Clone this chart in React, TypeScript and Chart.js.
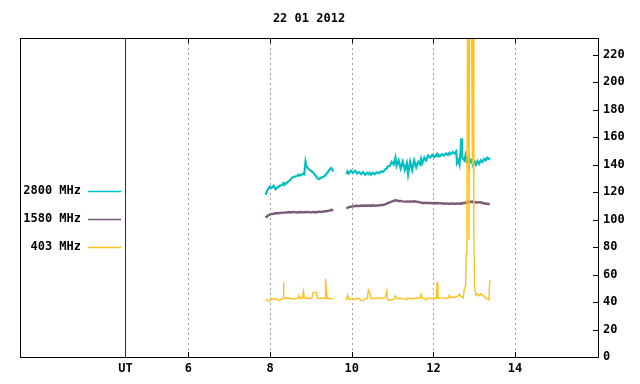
import React, { useEffect, useRef } from 'react';
import { Chart, registerables } from 'chart.js';

Chart.register(...registerables);

const TITLE = '22 01 2012';
const X_MIN = 1.88;
const X_MAX = 16.03;
const UT_POS = 4.46;
const X_TICKS = [UT_POS, 6, 8, 10, 12, 14];
const X_LABELS = ['UT', '6', '8', '10', '12', '14'];
const Y_MIN = 0;
const Y_MAX = 232;
const Y_TICKS = [0, 20, 40, 60, 80, 100, 120, 140, 160, 180, 200, 220];
const SERIES_NAMES = ['2800 MHz', '1580 MHz', '403 MHz'];
const SERIES_COLORS = ['#00bfbf', '#7a5a7a', '#ffc020'];

// Segment A (before the gap)
const TIMES_A = [
  7.89, 7.94, 7.99, 8.04, 8.09, 8.14, 8.19, 8.24, 8.29, 8.32,
  8.33, 8.34, 8.39, 8.44, 8.49, 8.54, 8.59, 8.64, 8.69, 8.70,
  8.74, 8.79, 8.82, 8.84, 8.87, 8.89, 8.92, 8.97, 9.02, 9.06,
  9.10, 9.14, 9.16, 9.21, 9.26, 9.31, 9.35, 9.36, 9.38, 9.40,
  9.45, 9.50, 9.55,
];
const MHZ2800_A = [
  118, 121.5, 124, 123, 124.5, 122, 123.5, 124.5, 125, 126,
  125.5, 126.5, 126, 127.5, 128.5, 130.5, 131, 131.5, 132, 132.5,
  132, 133, 133.5, 133, 142, 139, 137.5, 136, 135, 134,
  132.5, 131, 130, 129.5, 130.5, 131, 132, 132.5, 133, 134,
  136, 137.5, 135,
];
const MHZ1580_A = [
  101.5, 102.5, 103.5, 104, 104.2, 104.5, 104.5, 104.7, 104.8, 105,
  105, 105, 105, 105.3, 105.3, 105.3, 105.5, 105, 105.3, 105.3,
  105.5, 105.3, 105.2, 105.3, 105.5, 105.3, 105.5, 105.3, 105.2, 105.5,
  105.3, 105.3, 105.5, 105.7, 105.5, 105.8, 106, 106, 106, 106.2,
  106.5, 107, 106.5,
];
const MHZ403_A = [
  42, 41, 40.7, 42.5, 42, 42.5, 41.5, 41, 42.5, 42.5,
  54.5, 42.7, 42.7, 42.7, 42.7, 42, 42.3, 42.3, 43, 44.4,
  42.5, 42.7, 47.8, 43, 42.7, 42.7, 42.7, 42.7, 42.5, 47,
  47, 47, 42.5, 42.7, 42.7, 42.7, 42.7, 57, 48.7, 42.5,
  42.7, 42.3, 42.3,
];

// Gap between the two segments
const GAP_TIME = 9.7;

// Segment B (after the gap)
const TIMES_B = [
  9.87, 9.90, 9.93, 9.98, 10.03, 10.08, 10.13, 10.18, 10.23, 10.28,
  10.33, 10.38, 10.41, 10.44, 10.47, 10.52, 10.57, 10.62, 10.67, 10.72,
  10.77, 10.82, 10.86, 10.88, 10.93, 10.98, 11.03, 11.07, 11.10, 11.15,
  11.20, 11.25, 11.30, 11.35, 11.38, 11.43, 11.48, 11.53, 11.58, 11.63,
  11.68, 11.70, 11.73, 11.78, 11.82, 11.87, 11.92, 11.97, 12.02, 12.07,
  12.09, 12.11, 12.16, 12.21, 12.26, 12.31, 12.36, 12.39, 12.42, 12.47,
  12.52, 12.56, 12.58, 12.61, 12.64, 12.67, 12.68, 12.70, 12.73, 12.76,
  12.79, 12.805, 12.82, 12.835, 12.855, 12.87, 12.885, 12.91, 12.935, 12.955,
  12.97, 12.99, 13.01, 13.04, 13.08, 13.12, 13.16, 13.20, 13.24, 13.28,
  13.32, 13.36, 13.38,
];
const MHZ2800_B = [
  133, 135, 133.5, 135.5, 134, 135.5, 133.5, 134.5, 133, 134.5,
  132.5, 134, 133, 134, 132.5, 134, 133, 134.5, 133.5, 135,
  134.5, 136.5, 137, 138.5, 139, 142, 140, 145, 139, 143,
  137, 142, 136, 141, 133, 142, 136, 143, 138, 142,
  140, 144, 141, 145, 143, 146.5, 145, 147, 145.5, 147,
  146, 147.5, 146, 147.5, 146.5, 148, 147, 148.5, 147.5, 149,
  148, 149.5, 141, 143, 140, 152, 159, 146, 144, 143,
  147, 145, 141, 144, 143, 141, 144, 142, 143, 141,
  143.5, 140.5, 142, 140, 142.5, 140.5, 143, 142, 144, 143,
  145, 144, 145,
];
const MHZ1580_B = [
  108, 108.5, 109, 109.3, 109.5, 109.8, 110, 109.8, 110, 110.2,
  110, 110.2, 110, 110.2, 110, 110.3, 110, 110.2, 110.3, 110.5,
  110.5, 111, 111.5, 112, 112.5, 113, 113.5, 114, 113.8, 113.5,
  113.5, 113.2, 113, 113.2, 113, 113.2, 113, 113.3, 113, 112.7,
  112.5, 112.3, 112, 112, 112.2, 112, 112, 111.8, 112, 111.8,
  111.8, 112, 111.7, 111.8, 111.5, 111.7, 111.5, 111.5, 111.5, 111.7,
  111.5, 111.5, 111.5, 111.7, 111.5, 111.5, 111.8, 111.7, 112, 112,
  112, 112.3, 112.5, 112.3, 112.5, 112.8, 112.5, 113, 112.7, 113,
  112.5, 112.8, 112.5, 112.5, 112.3, 112.5, 112.5, 112, 111.8, 111.5,
  111.5, 111.3, 111.3,
];
const MHZ403_B = [
  41.5, 45, 42, 42, 42.3, 42, 42.5, 42.5, 41, 41,
  42.5, 42.5, 48.7, 47, 42.5, 42.5, 42.5, 42.7, 42.7, 43,
  42.7, 43, 48, 41.5, 41.5, 41.5, 42, 44.4, 42.5, 42.5,
  42.5, 42.3, 42.3, 41.5, 43, 42.5, 42.5, 42.5, 42.7, 42.7,
  43, 45.6, 43, 42.5, 41.5, 43, 42.5, 42.5, 42.7, 42.5,
  54.3, 42.7, 43, 43, 43, 42.7, 43, 45, 43, 43.5,
  43.5, 44, 44, 44.5, 45.6, 44, 44, 44, 43, 50,
  52, 75, 110, 240, 240, 85, 240, 240, 240, 140,
  240, 90, 50, 45, 46, 44.5, 46, 45, 44, 43,
  42.5, 41.5, 56,
];

const FONT = 'bold 12px "DejaVu Sans Mono", "Liberation Mono", monospace';

function buildSeries(a: number[], b: number[]) {
  const pts: { x: number; y: number | null }[] = [];
  TIMES_A.forEach((t, i) => pts.push({ x: t, y: a[i] }));
  pts.push({ x: GAP_TIME, y: null });
  TIMES_B.forEach((t, i) => pts.push({ x: t, y: b[i] }));
  return pts;
}

const decorPlugin = {
  id: 'decor',
  beforeDatasetsDraw(chart: any) {
    const { ctx, chartArea: a, scales } = chart;
    const x = scales.x;
    ctx.save();
    ctx.lineWidth = 1;
    ctx.strokeStyle = '#a0a0a0';
    ctx.setLineDash([2, 3]);
    X_TICKS.forEach((v) => {
      if (v === UT_POS) return;
      const px = Math.round(x.getPixelForValue(v)) + 0.5;
      ctx.beginPath();
      ctx.moveTo(px, a.top);
      ctx.lineTo(px, a.bottom);
      ctx.stroke();
    });
    ctx.setLineDash([]);
    ctx.strokeStyle = '#990000';
    const ux = Math.round(x.getPixelForValue(UT_POS)) + 0.5;
    ctx.beginPath();
    ctx.moveTo(ux, a.top);
    ctx.lineTo(ux, a.bottom);
    ctx.stroke();
    ctx.restore();
  },
  afterDatasetsDraw(chart: any) {
    const { ctx, chartArea: a, scales } = chart;
    const x = scales.x;
    const y = scales.y;
    ctx.save();
    ctx.lineWidth = 1;
    ctx.strokeStyle = '#000';
    ctx.setLineDash([]);
    // frame
    ctx.strokeRect(a.left + 0.5, a.top + 0.5, a.right - a.left, a.bottom - a.top);
    // x ticks (bottom and top, inward)
    X_TICKS.forEach((v) => {
      if (v === UT_POS) return;
      const px = Math.round(x.getPixelForValue(v)) + 0.5;
      ctx.beginPath();
      ctx.moveTo(px, a.bottom);
      ctx.lineTo(px, a.bottom - 5);
      ctx.moveTo(px, a.top);
      ctx.lineTo(px, a.top + 5);
      ctx.stroke();
    });
    // y ticks on right, inward
    Y_TICKS.forEach((v) => {
      const py = Math.round(y.getPixelForValue(v)) + 0.5;
      ctx.beginPath();
      ctx.moveTo(a.right, py);
      ctx.lineTo(a.right - 5, py);
      ctx.stroke();
    });
    // title
    ctx.fillStyle = '#000';
    ctx.font = FONT;
    ctx.textAlign = 'center';
    ctx.textBaseline = 'middle';
    ctx.fillText(TITLE, (a.left + a.right) / 2, 19);
    // legend
    const rows = [191, 219, 247];
    SERIES_NAMES.forEach((name, i) => {
      const ry = rows[i];
      ctx.textAlign = 'right';
      ctx.fillStyle = '#000';
      ctx.fillText(name, a.left + 61, ry);
      ctx.strokeStyle = SERIES_COLORS[i];
      ctx.lineWidth = 1.3;
      ctx.beginPath();
      ctx.moveTo(a.left + 68, ry + 0.5);
      ctx.lineTo(a.left + 101, ry + 0.5);
      ctx.stroke();
    });
    ctx.restore();
  },
};

export default function App() {
  const ref = useRef<HTMLCanvasElement | null>(null);
  useEffect(() => {
    document.body.style.margin = '0';
    const canvas = ref.current;
    if (!canvas) return;
    const data2800 = buildSeries(MHZ2800_A, MHZ2800_B);
    const data1580 = buildSeries(MHZ1580_A, MHZ1580_B);
    const data403 = buildSeries(MHZ403_A, MHZ403_B);
    const chart = new Chart(canvas, {
      type: 'line',
      data: {
        datasets: [
          { label: SERIES_NAMES[0], data: data2800, borderColor: SERIES_COLORS[0], borderWidth: 2.2, pointRadius: 0, tension: 0, order: 2 },
          { label: SERIES_NAMES[1], data: data1580, borderColor: SERIES_COLORS[1], borderWidth: 2.4, pointRadius: 0, tension: 0, order: 1 },
          { label: SERIES_NAMES[2], data: data403, borderColor: SERIES_COLORS[2], borderWidth: 1.4, pointRadius: 0, tension: 0, order: 0 },
        ] as any,
      },
      options: {
        responsive: false,
        devicePixelRatio: 1,
        animation: false,
        parsing: true,
        layout: { padding: { left: 20, top: 38, right: 0, bottom: 0 } },
        plugins: { legend: { display: false }, title: { display: false }, tooltip: { enabled: false } },
        scales: {
          x: {
            type: 'linear',
            position: 'bottom',
            min: X_MIN,
            max: X_MAX,
            grid: { display: false, drawTicks: false },
            border: { display: false },
            afterBuildTicks: (s: any) => {
              s.ticks = X_TICKS.map((v) => ({ value: v }));
            },
            afterFit: (s: any) => {
              s.height = 27;
            },
            ticks: {
              autoSkip: false,
              maxRotation: 0,
              minRotation: 0,
              padding: 5,
              color: '#000',
              font: { family: '"DejaVu Sans Mono", "Liberation Mono", monospace', size: 12, weight: 'bold' },
              callback: (_v: any, i: number) => X_LABELS[i],
            },
          },
          y: {
            type: 'linear',
            position: 'right',
            min: Y_MIN,
            max: Y_MAX,
            grid: { display: false, drawTicks: false },
            border: { display: false },
            afterBuildTicks: (s: any) => {
              s.ticks = Y_TICKS.map((v) => ({ value: v }));
            },
            afterFit: (s: any) => {
              s.width = 42;
            },
            ticks: {
              padding: 5,
              color: '#000',
              font: { family: '"DejaVu Sans Mono", "Liberation Mono", monospace', size: 12, weight: 'bold' },
              callback: (v: any) => String(v),
            },
          },
        },
      } as any,
      plugins: [decorPlugin],
    });
    return () => chart.destroy();
  }, []);
  return <canvas ref={ref} width={640} height={384} style={{ display: 'block' }} />;
}
